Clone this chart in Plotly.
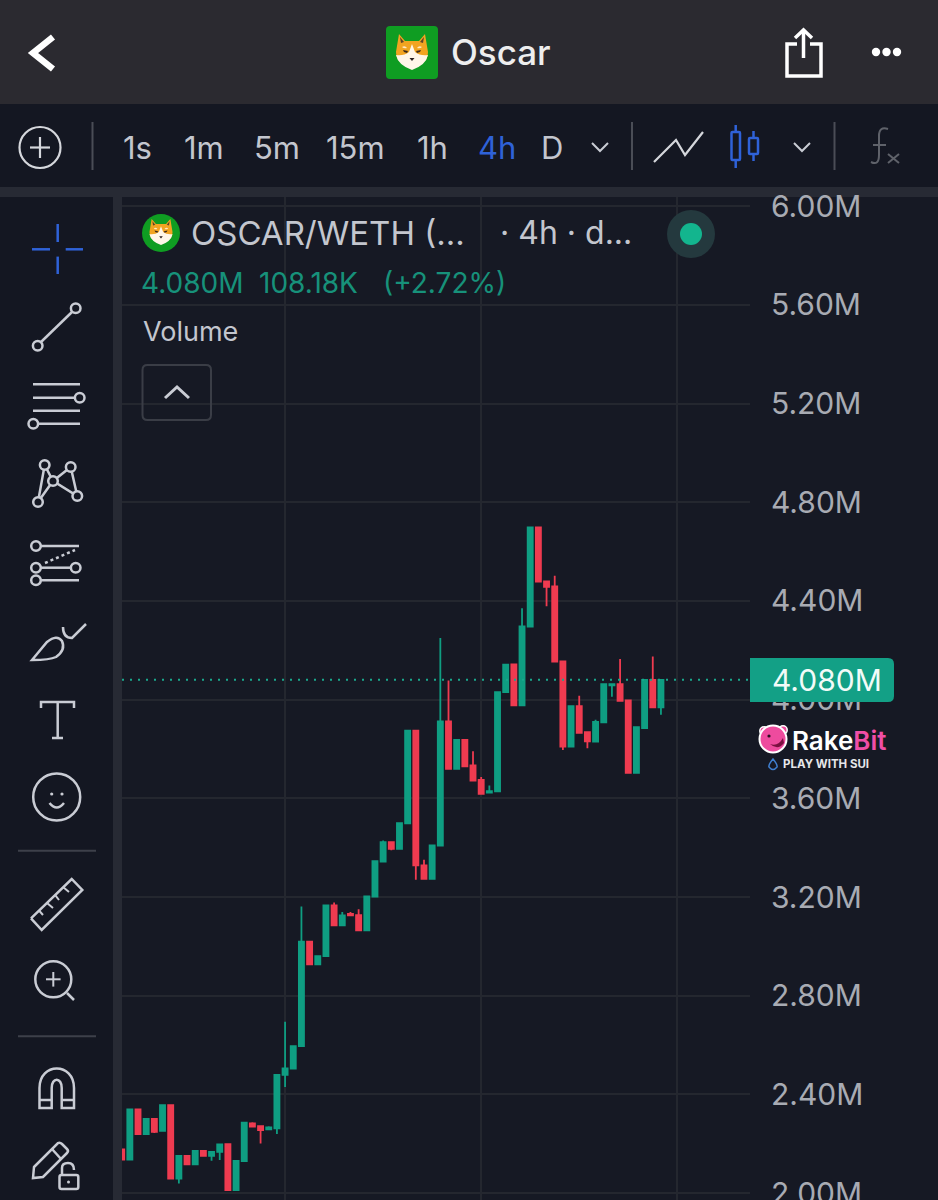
import re
import plotly.graph_objects as go

W, H = 938, 1200

# ---------- data (millions) ----------
INDEX = list(range(67))
OPEN = [2.177,2.136,2.339,2.239,2.301,2.252,2.356,2.059,2.151,2.116,2.171,2.151,2.167,2.198,2.012,2.130,2.282,2.271,2.258,2.262,
        2.479,2.505,2.596,3.019,2.927,2.960,3.166,3.085,3.132,3.126,3.065,3.202,3.343,3.422,3.395,3.499,3.874,3.328,3.274,3.408,
        3.912,3.719,3.837,3.733,3.675,3.623,3.628,4.030,4.143,3.977,4.296,4.698,4.479,4.459,4.155,3.810,3.974,3.868,3.830,3.908,
        4.058,4.063,3.997,3.703,3.885,4.080,3.969]
HIGH = [2.177,2.339,2.339,2.301,2.301,2.356,2.356,2.151,2.151,2.171,2.171,2.167,2.197,2.198,2.130,2.285,2.287,2.271,2.271,2.479,
        2.694,2.596,3.162,3.019,2.960,3.166,3.178,3.139,3.139,3.150,3.202,3.345,3.429,3.422,3.499,3.874,3.874,3.351,3.409,4.250,
        4.077,3.837,3.837,3.791,3.686,3.652,4.030,4.142,4.143,4.370,4.698,4.698,4.479,4.502,4.155,3.974,4.016,3.868,3.918,4.063,
        4.063,4.165,3.997,3.888,4.080,4.175,4.080]
LOW = [2.136,2.136,2.239,2.239,2.244,2.252,2.059,2.039,2.116,2.116,2.151,2.131,2.134,2.012,2.012,2.130,2.269,2.201,2.258,2.239,
       2.430,2.505,2.596,2.927,2.927,2.960,3.085,3.085,3.126,3.065,3.065,3.202,3.343,3.389,3.395,3.499,3.270,3.274,3.274,3.408,
       3.719,3.719,3.730,3.672,3.618,3.623,3.628,4.030,3.977,3.977,4.296,4.478,4.378,4.154,3.796,3.810,3.865,3.803,3.830,3.908,
       4.012,3.995,3.703,3.703,3.885,3.969,3.939]
CLOSE = [2.136,2.339,2.239,2.301,2.248,2.356,2.059,2.151,2.116,2.171,2.151,2.167,2.197,2.012,2.130,2.285,2.269,2.255,2.266,2.479,
         2.505,2.596,3.019,2.927,2.960,3.166,3.085,3.125,3.126,3.065,3.202,3.345,3.422,3.395,3.499,3.874,3.328,3.274,3.409,3.912,
         3.719,3.837,3.730,3.672,3.618,3.629,4.030,4.142,3.977,4.297,4.698,4.478,4.457,4.154,3.810,3.974,3.865,3.831,3.910,4.063,
         4.063,3.995,3.703,3.888,4.080,3.969,4.080]
TICK_VALUES = [2.0, 2.4, 2.8, 3.2, 3.6, 4.0, 4.4, 4.8, 5.2, 5.6, 6.0]
TICK_LABELS = ["2.00M", "2.40M", "2.80M", "3.20M", "3.60M", "4.00M", "4.40M", "4.80M", "5.20M", "5.60M", "6.00M"]
TIME_GRID = [20, 44, 68]
LAST_PRICE = 4.08
LAST_LABEL = "4.080M"
TIMEFRAMES = [("1s", 122), ("1m", 183), ("5m", 253), ("15m", 325), ("1h", 416), ("4h", 477), ("D", 540)]

# ---------- colours ----------
UP, DOWN = "#0f9e82", "#ef3b50"
PANE, BAR, TOOL, GAP = "#161924", "#2b2a30", "#141722", "#272a34"
ICON, TXT, BLUE, GRID = "#c9ccd4", "#c3c6ce", "#2f62d8", "#24272f"

shapes, notes = [], []


def conv(d):
    out, is_x = [], True
    for tok in re.findall(r"[MLQCZ]|-?\d+\.?\d*", d):
        if tok in "MLQCZ":
            out.append(tok)
        else:
            v = float(tok)
            out.append(f"{v / W:.5f}" if is_x else f"{1 - v / H:.5f}")
            is_x = not is_x
    return " ".join(out)


def path(d, stroke=ICON, width=2.5, fill=None, layer="above", dash=None):
    line = dict(color=stroke if stroke else "rgba(0,0,0,0)", width=width if stroke else 0)
    if dash:
        line["dash"] = dash
    shapes.append(dict(type="path", xref="paper", yref="paper", path=conv(d), line=line,
                       fillcolor=fill or "rgba(0,0,0,0)", layer=layer))


def rect(x0, y0, x1, y1, fill, layer="below"):
    shapes.append(dict(type="rect", xref="paper", yref="paper", x0=x0 / W, x1=x1 / W, y0=1 - y1 / H, y1=1 - y0 / H,
                       fillcolor=fill, line=dict(width=0), layer=layer))


def circ(cx, cy, r, stroke=ICON, width=2.5, fill=None):
    shapes.append(dict(type="circle", xref="paper", yref="paper", x0=(cx - r) / W, x1=(cx + r) / W,
                       y0=1 - (cy + r) / H, y1=1 - (cy - r) / H, layer="above",
                       line=dict(color=stroke if stroke else "rgba(0,0,0,0)", width=width if stroke else 0),
                       fillcolor=fill or "rgba(0,0,0,0)"))


def seg(*pts, **kw):
    d = "M" + " L".join(f"{x},{y}" for x, y in pts)
    path(d, **kw)


def text(s, x, y, size, color=TXT, anchor="left", weight=400):
    notes.append(dict(xref="paper", yref="paper", x=x / W, y=1 - y / H, text=s, showarrow=False,
                      xanchor=anchor, yanchor="middle", borderpad=0,
                      font=dict(family="Inter, sans-serif", size=size, color=color, weight=weight)))


def dog(cx, cy, k):
    def p(d):
        nums = iter(re.findall(r"[MLQCZ]|-?\d+\.?\d*", d))
        out, is_x = [], True
        for t in nums:
            if t in "MLQCZ":
                out.append(t)
            else:
                out.append(f"{(cx if is_x else cy) + float(t) * k:.2f}")
                is_x = not is_x
        return " ".join(out)
    path(p("M-16,0 L-13,-18 L-7,-11 L7,-11 L13,-18 L16,0 Q16,8 10,11 L-10,11 Q-16,8 -16,0 Z"), stroke=None, fill="#f2a421")
    path(p("M-11,-9 L-12,-15 L-8,-10 Z"), stroke=None, fill="#5f4328")
    path(p("M11,-9 L12,-15 L8,-10 Z"), stroke=None, fill="#5f4328")
    path(p("M-16,3 Q-8,4 -3,0 L0,-8 L3,0 Q8,4 16,3 Q14,13 0,18 Q-14,13 -16,3 Z"), stroke=None, fill="#fff6e8")
    path(p("M-10,-5 Q-7,-7 -5,-4 Q-8,-3 -10,-5 Z"), stroke=None, fill="#ffe9c4")
    path(p("M10,-5 Q7,-7 5,-4 Q8,-3 10,-5 Z"), stroke=None, fill="#ffe9c4")
    path(p("M-9,-2 L-4,-1 L-5,1 L-8,0 Z"), stroke=None, fill="#3c2a1a")
    path(p("M9,-2 L4,-1 L5,1 L8,0 Z"), stroke=None, fill="#3c2a1a")
    path(p("M-2.5,6 L2.5,6 L0,9 Z"), stroke=None, fill="#2a2020")


def rrect(x0, y0, x1, y1, r):
    return (f"M{x0 + r},{y0} L{x1 - r},{y0} Q{x1},{y0} {x1},{y0 + r} L{x1},{y1 - r} Q{x1},{y1} {x1 - r},{y1} "
            f"L{x0 + r},{y1} Q{x0},{y1} {x0},{y1 - r} L{x0},{y0 + r} Q{x0},{y0} {x0 + r},{y0} Z")


# ---------- app chrome ----------
rect(0, 0, W, 104, BAR)
rect(0, 104, W, 187, TOOL)
rect(0, 187, W, 197, GAP)
rect(0, 197, 113, H, TOOL)
rect(113, 197, 122, H, GAP)

seg((53, 37), (33, 53), (53, 69), stroke="#ffffff", width=6.5)
path(rrect(386, 26, 438, 79, 4), stroke=None, fill="#0f9d22")
dog(412, 52, 1.0)
text("Oscar", 450, 52, 35, "#eeeeee", weight=500)
path("M797,44 L787,44 L787,76 L821,76 L821,44 L810,44", stroke="#ffffff", width=3.5)
seg((803.5, 31), (803.5, 58), stroke="#ffffff", width=3.5)
seg((795, 38), (803.5, 30), (812, 38), stroke="#ffffff", width=3.5)
for cx in (876, 886.5, 897):
    circ(cx, 52, 4.2, stroke=None, fill="#ffffff")

# toolbar row
circ(40, 147.5, 20.5, stroke="#d5d7dc", width=2.2)
seg((30, 147.5), (50, 147.5), stroke="#d5d7dc", width=2.2)
seg((40, 137), (40, 158), stroke="#d5d7dc", width=2.2)
for x in (92.5, 632, 834.5):
    seg((x, 122), (x, 170), stroke="#4a4d56", width=2)
for label, x in TIMEFRAMES:
    text(label, x, 147, 31, BLUE if label == "4h" else TXT)
seg((592, 143), (600, 151), (608, 143), stroke=ICON, width=2)
seg((794, 143), (802, 151), (810, 143), stroke=ICON, width=2)
seg((654, 162), (676, 140), (685, 155), (703, 132), stroke="#d5d7dc", width=2.2)
path(rrect(731.5, 132, 740, 160, 1), stroke=BLUE, width=2.5)
path(rrect(749, 138, 758, 154, 1), stroke=BLUE, width=2.5)
seg((735.7, 125), (735.7, 132), stroke=BLUE, width=2.5)
seg((735.7, 160), (735.7, 168), stroke=BLUE, width=2.5)
seg((753.5, 131), (753.5, 138), stroke=BLUE, width=2.5)
seg((753.5, 154), (753.5, 161), stroke=BLUE, width=2.5)
path("M888,129 Q879,126 879,136 L879,155 Q879,166 871,162", stroke="#5f626a", width=2)
seg((873, 145), (886, 145), stroke="#5f626a", width=2)
seg((888, 154), (899, 163), stroke="#5f626a", width=2)
seg((899, 154), (888, 163), stroke="#5f626a", width=2)

# drawing tools
seg((57.7, 224), (57.7, 242), stroke=BLUE, width=2.5)
seg((57.7, 256.6), (57.7, 274), stroke=BLUE, width=2.5)
seg((32, 249.3), (50, 249.3), stroke=BLUE, width=2.5)
seg((65.7, 249.3), (83, 249.3), stroke=BLUE, width=2.5)

seg((41, 342), (72, 312))
circ(37.7, 345.7, 4.8)
circ(75.7, 308.3, 4.8)

seg((33, 384.3), (80, 384.3))
seg((33, 397.7), (75, 397.7))
circ(79.7, 397.7, 4.8)
seg((33, 410.7), (80, 410.7))
circ(33.3, 423.7, 4.8)
seg((38, 423.7), (80, 423.7))

seg((38, 502), (44.7, 465), (53, 481), (70.7, 467), (77.3, 496), (53, 481), (38, 502))
for c in [(44.7, 465), (70.7, 467), (53, 481), (38, 502), (77.3, 496)]:
    circ(c[0], c[1], 4.8, fill=TOOL)

seg((41, 546), (79, 546))
circ(36, 546, 4.8)
seg((45, 563), (75, 550), dash="dot")
seg((41, 567.7), (71, 567.7))
circ(36, 567.7, 4.8)
circ(75.7, 567.7, 4.8)
seg((41, 580.3), (79, 580.3))
circ(36, 580.3, 4.8)

path("M32,660 L47,642 Q57,634 62,641 Q66,650 56,657 Q50,660 32,660 Z")
path("M63,627 Q63,638 72,638 L86,624")

path("M41,708 L41,702 L74,702 L74,708")
seg((57.7, 702), (57.7, 738))
seg((52, 738), (63, 738))

circ(56.7, 797, 23.5)
circ(51.7, 794, 1.6, stroke=None, fill=ICON)
circ(62, 794, 1.6, stroke=None, fill=ICON)
path("M49.5,803 Q56.7,812 64,803")

seg((18, 850.7), (96, 850.7), stroke="#3d404a", width=2)
seg((31, 918.3), (71.7, 879), (82.3, 890), (41.7, 930), (31, 918.3))
for a, b in [((39, 910.5), (43, 915)), ((47, 903), (53, 908)), ((55, 895), (59, 900)), ((63, 887), (69, 892))]:
    seg(a, b, width=2)

circ(53.3, 979.3, 18)
seg((46, 979.3), (60.6, 979.3), width=2)
seg((53.3, 972), (53.3, 986.6), width=2)
seg((67, 993), (74, 1000))
seg((18, 1036.3), (96, 1036.3), stroke="#3d404a", width=2)

path("M39.5,1108 L39.5,1088 C39.5,1062 74,1062 74,1088 L74,1108 L61.7,1108 L61.7,1088 "
     "C61.7,1077 51.7,1077 51.7,1088 L51.7,1108 Z")
seg((39.5, 1100), (51.7, 1100))
seg((61.7, 1100), (74, 1100))

path("M34,1167 L58,1143 Q60,1142 62,1144 L67,1149 Q69,1151 67,1153 L43,1177 L33,1178 Z")
seg((52, 1149), (61, 1159))
path(rrect(59.5, 1175, 78.3, 1189, 2), fill=TOOL)
path("M62,1175 L62,1168 Q62,1163 68,1163 Q74,1163 74,1170")
circ(68.5, 1182, 1.5, stroke=None, fill=ICON)

# legend block
circ(161, 233, 19, stroke=None, fill="#0f9d22")
dog(161, 232, 0.72)
text("OSCAR/WETH (...", 190, 233, 33, TXT)
text("· 4h · d...", 499, 233, 32, TXT)
text("4.080M", 140, 283, 28, "#17917a")
text("108.18K", 258, 283, 28, "#17917a")
text("(+2.72%)", 382, 283, 28, "#17917a")
text("Volume", 142, 332, 27, TXT)
path(rrect(142.5, 365, 211, 420, 5), stroke="#3a3d46", width=2)
seg((165, 398), (177, 387), (189, 398), stroke=ICON, width=3)
circ(691, 234, 24, stroke=None, fill="#24393e")
circ(691, 234, 11, stroke=None, fill="#13b58e")

# last price line and tag
shapes.append(dict(type="line", xref="paper", x0=122 / W, x1=750 / W, yref="y", y0=LAST_PRICE, y1=LAST_PRICE,
                   line=dict(color="#1aa88c", width=2, dash="2px,6px"), layer="above"))
path("M750,658 L888,658 Q894,658 894,664 L894,696 Q894,702 888,702 L750,702 Z", stroke=None, fill="#13a086")
text(LAST_LABEL, 771, 680, 30, "#f2fbf8")

# watermark
circ(764, 731, 4.2, stroke="#ffffff", width=1.5, fill="#ee4b9e")
circ(783, 730, 4.2, stroke="#ffffff", width=1.5, fill="#ee4b9e")
circ(773, 739, 13.5, stroke="#ffffff", width=2, fill="#ee4b9e")
circ(769, 736, 1.6, stroke=None, fill="#2a1020")
path("M770,744 Q778,747 783,738 L784,743 Q778,751 770,744 Z", stroke=None, fill="#7a1040")
text("Rake<span style='color:#ef4ea6'>Bit</span>", 791, 740, 26, "#ffffff", weight=600)
path("M773,759 Q768,765 769,767 Q773,772 777,767 Q778,765 773,759 Z", stroke="#3f7fd0", width=1.5)
text("<b>PLAY WITH SUI</b>", 782, 764, 11.5, "#e6e7ea")

# ---------- figure ----------
fig = go.Figure(go.Candlestick(
    x=INDEX, open=OPEN, high=HIGH, low=LOW, close=CLOSE, whiskerwidth=0,
    increasing=dict(line=dict(color=UP, width=1.8), fillcolor=UP),
    decreasing=dict(line=dict(color=DOWN, width=1.8), fillcolor=DOWN),
    hoverinfo="skip", showlegend=False,
))
fig.update_layout(
    width=W, height=H, margin=dict(l=0, r=0, t=0, b=0), autosize=False,
    paper_bgcolor=PANE, plot_bgcolor=PANE, showlegend=False, boxgap=0.38, boxgroupgap=0,
    shapes=shapes, annotations=notes,
    font=dict(family="Inter, sans-serif"),
    xaxis=dict(domain=[122 / W, 750 / W], range=[0.04, 76.9], rangeslider=dict(visible=False),
               tickmode="array", tickvals=TIME_GRID, showticklabels=False, ticks="",
               showgrid=True, gridcolor=GRID, gridwidth=1.5, zeroline=False, showline=False),
    yaxis=dict(domain=[0, 1 - 197 / H], range=[1.972, 6.037], side="right", anchor="x",
               tickmode="array", tickvals=TICK_VALUES, ticktext=TICK_LABELS,
               tickfont=dict(family="Inter, sans-serif", size=30, color="#a8abb3"),
               ticklabeloverflow="allow",
               ticks="outside", ticklen=14, tickcolor="rgba(0,0,0,0)", showgrid=True, gridcolor=GRID, gridwidth=1.5,
               zeroline=False, showline=False, automargin=False),
)
fig.write_html("out.html", config=dict(displayModeBar=False),
               post_script="document.body.style.margin='0';document.body.style.background='#161924';")
